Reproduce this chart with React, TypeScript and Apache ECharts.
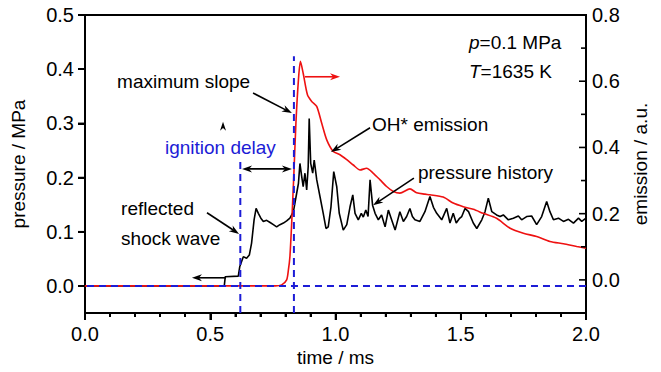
import React, { useEffect, useRef } from "react";
import * as echarts from "echarts";

// ---------- data ----------
const timeRange = [0, 2.0];
const pressureRange = [-0.05, 0.5];
const emissionRange = [-0.1, 0.8];
const timeMajorTicks = [0, 0.5, 1.0, 1.5, 2.0];
const timeMinorTicks = [0.1, 0.2, 0.3, 0.4, 0.6, 0.7, 0.8, 0.9, 1.1, 1.2, 1.3, 1.4, 1.6, 1.7, 1.8, 1.9];
const pressureTicks = [0, 0.1, 0.2, 0.3, 0.4, 0.5];
const emissionMajorTicks = [0, 0.2, 0.4, 0.6, 0.8];
const emissionMinorTicks = [0.1, 0.3, 0.5, 0.7];
const pressureTickStep = 0.1;
const emissionTickStep = 0.2;
const timeTickStep = 0.5;
const axisTitles = { time: "time / ms", pressure: "pressure / MPa", emission: "emission / a.u." };

// pressure history (time ms, pressure MPa)
const pressureTime = [
  0, 0.556, 0.56, 0.612, 0.618, 0.632, 0.645, 0.656, 0.665, 0.675, 0.683, 0.692, 0.702, 0.712,
  0.725, 0.739, 0.752, 0.765, 0.778, 0.792, 0.805, 0.818, 0.832, 0.845, 0.852, 0.858, 0.865,
  0.871, 0.878, 0.885, 0.891, 0.895, 0.901, 0.909, 0.915, 0.925, 0.938, 0.951, 0.962, 0.971,
  0.982, 0.993, 1.005, 1.015, 1.031, 1.045, 1.058, 1.069, 1.078, 1.091, 1.103, 1.111, 1.121,
  1.13, 1.138, 1.148, 1.158, 1.171, 1.184, 1.198, 1.211, 1.224, 1.238, 1.257, 1.271, 1.284,
  1.297, 1.307, 1.317, 1.337, 1.357, 1.377, 1.391, 1.404, 1.424, 1.444, 1.457, 1.47, 1.482,
  1.494, 1.504, 1.517, 1.531, 1.55, 1.564, 1.584, 1.597, 1.61, 1.624, 1.643, 1.657, 1.67,
  1.69, 1.71, 1.73, 1.743, 1.763, 1.783, 1.803, 1.823, 1.843, 1.856, 1.87, 1.89, 1.91, 1.93,
  1.95, 1.97, 1.983, 2.0,
];
const pressureValue = [
  0, 0, 0.017, 0.018, 0.036, 0.054, 0.051, 0.057, 0.079, 0.122, 0.143, 0.134, 0.125, 0.119,
  0.121, 0.117, 0.113, 0.109, 0.113, 0.116, 0.12, 0.125, 0.137, 0.171, 0.189, 0.226, 0.202,
  0.183, 0.208, 0.177, 0.22, 0.309, 0.226, 0.208, 0.232, 0.196, 0.165, 0.134, 0.106, 0.109,
  0.146, 0.211, 0.183, 0.134, 0.103, 0.113, 0.146, 0.168, 0.134, 0.122, 0.134, 0.127, 0.14,
  0.128, 0.196, 0.149, 0.134, 0.122, 0.131, 0.109, 0.14, 0.122, 0.103, 0.137, 0.119, 0.128,
  0.143, 0.128, 0.122, 0.119, 0.137, 0.165, 0.145, 0.134, 0.122, 0.143, 0.116, 0.134, 0.116,
  0.124, 0.128, 0.143, 0.137, 0.116, 0.106, 0.122, 0.137, 0.162, 0.137, 0.131, 0.128, 0.131,
  0.122, 0.125, 0.129, 0.122, 0.128, 0.129, 0.113, 0.128, 0.156, 0.137, 0.122, 0.125, 0.119,
  0.123, 0.116, 0.125, 0.119, 0.125,
];

// OH* emission (time ms, a.u.)
const emissionTime = [
  -0.04, 0.76, 0.785, 0.805, 0.812, 0.818, 0.825, 0.834, 0.842, 0.852, 0.86, 0.871, 0.888,
  0.905, 0.925, 0.945, 0.965, 0.991, 1.018, 1.045, 1.071, 1.098, 1.124, 1.151, 1.178, 1.204,
  1.231, 1.257, 1.297, 1.324, 1.357, 1.377, 1.43, 1.47, 1.51, 1.55, 1.59, 1.643, 1.697, 1.75,
  1.803, 1.856, 1.91, 1.963, 2.0,
];
const emissionValue = [
  -0.018, -0.018, -0.015, 0.0, 0.03, 0.07, 0.17, 0.323, 0.474, 0.604, 0.66, 0.624, 0.559,
  0.539, 0.524, 0.473, 0.423, 0.388, 0.378, 0.363, 0.347, 0.332, 0.337, 0.322, 0.302, 0.282,
  0.267, 0.262, 0.275, 0.263, 0.259, 0.257, 0.25, 0.232, 0.221, 0.213, 0.201, 0.186, 0.156,
  0.141, 0.131, 0.116, 0.109, 0.101, 0.096,
];

// blue dashed guide lines (time, pressure)
const baselineLine = [[-0.04, 0], [2.0, 0]];
const shockLine = [[0.62, -0.05], [0.62, 0.236]];
const slopeLine = [[0.834, -0.05], [0.834, 0.424]];

// annotation texts (anchored in time / pressure coordinates)
const labelTexts = [
  { text: "maximum slope", t: 0.128, p: 0.378, color: "#000" },
  { text: "ignition delay", t: 0.319, p: 0.256, color: "#1c1cd6" },
  { text: "reflected", t: 0.144, p: 0.142, color: "#000" },
  { text: "shock wave", t: 0.144, p: 0.087, color: "#000" },
  { text: "OH* emission", t: 1.146, p: 0.297, color: "#000" },
  { text: "pressure history", t: 1.329, p: 0.21, color: "#000" },
  { text: "{i|p}=0.1 MPa", t: 1.533, p: 0.45, color: "#000" },
  { text: "{i|T}=1635 K", t: 1.533, p: 0.395, color: "#000" },
];
// arrows: from (t1,p1) to head (t2,p2); double = both heads
const arrowList = [
  { from: [0.671, 0.356], to: [0.826, 0.319], color: "#000", double: false },
  { from: [0.487, 0.135], to: [0.615, 0.096], color: "#000", double: false },
  { from: [0.563, 0.015], to: [0.427, 0.015], color: "#000", double: false },
  { from: [0.627, 0.216], to: [0.826, 0.216], color: "#000", double: true },
  { from: [0.878, 0.386], to: [1.018, 0.386], color: "#ee1111", double: false },
  { from: [1.138, 0.292], to: [0.982, 0.247], color: "#000", double: false },
  { from: [1.313, 0.199], to: [1.15, 0.149], color: "#000", double: false },
];
const smallHead = { tip: [0.551, 0.303], base: [0.551, 0.285] };

const FONT = "Liberation Sans, Arial, sans-serif";
const FS = 19;
const TICK_FS = 20;

function zip(a: number[], b: number[]) {
  return a.map((v, i) => [v, b[i]]);
}

function headPolygon(tip: number[], from: number[], color: string, len = 10, half = 3.5) {
  const dx = tip[0] - from[0];
  const dy = tip[1] - from[1];
  const L = Math.hypot(dx, dy) || 1;
  const ux = dx / L;
  const uy = dy / L;
  const bx = tip[0] - ux * len;
  const by = tip[1] - uy * len;
  const nx = -uy;
  const ny = ux;
  const notch = [tip[0] - ux * len * 0.7, tip[1] - uy * len * 0.7];
  return {
    el: {
      type: "polygon",
      z: 100,
      silent: true,
      shape: {
        points: [tip, [bx + nx * half, by + ny * half], notch, [bx - nx * half, by - ny * half]],
      },
      style: { fill: color },
    },
    notch,
  };
}

// plot frame in pixels
const G = { left: 85, right: 75, top: 15, bottom: 59 };
const W = 661;
const H = 372;

export default function App() {
  const ref = useRef<HTMLDivElement>(null);

  useEffect(() => {
    if (!ref.current) return;
    const chart = echarts.init(ref.current, null, { renderer: "svg" });

    const plotH = H - G.top - G.bottom;
    // grids whose bottom edge sits at value 0 of each y scale (label scales start at 0)
    const pZeroBottom = G.bottom + plotH * ((0 - pressureRange[0]) / (pressureRange[1] - pressureRange[0]));
    const eZeroBottom = G.bottom + plotH * ((0 - emissionRange[0]) / (emissionRange[1] - emissionRange[0]));

    const axisLine = { show: true, onZero: false, lineStyle: { color: "#000", width: 2 } };
    const tickLabelStyle = { color: "#000", fontSize: TICK_FS, fontFamily: FONT };
    const tickLine = { color: "#000", width: 2 };
    const dashStyle = { color: "#1c1cd6", width: 2, type: [7, 5] as any };
    const hidden = { show: false };

    const option: any = {
      animation: false,
      backgroundColor: "#fff",
      grid: [
        { ...G, show: true, borderColor: "#000", borderWidth: 2, backgroundColor: "transparent" },
        { left: G.left, right: G.right, top: G.top, bottom: pZeroBottom },
        { left: G.left, right: G.right, top: G.top, bottom: eZeroBottom },
      ],
      xAxis: [
        {
          type: "value",
          gridIndex: 0,
          position: "bottom",
          min: timeRange[0],
          max: timeRange[1],
          interval: timeTickStep,
          axisLine,
          axisTick: { show: true, length: 7, lineStyle: tickLine },
          minorTick: { show: true, splitNumber: 5, length: 4, lineStyle: tickLine },
          axisLabel: { show: true, ...tickLabelStyle, margin: 11, formatter: (v: number) => v.toFixed(1) },
          splitLine: hidden,
          minorSplitLine: hidden,
        },
        { type: "value", gridIndex: 1, min: timeRange[0], max: timeRange[1], show: false },
        { type: "value", gridIndex: 2, min: timeRange[0], max: timeRange[1], show: false },
      ],
      yAxis: [
        {
          type: "value",
          gridIndex: 0,
          min: pressureRange[0],
          max: pressureRange[1],
          position: "left",
          axisLine,
          axisTick: hidden,
          axisLabel: hidden,
          splitLine: hidden,
        },
        {
          type: "value",
          gridIndex: 0,
          min: emissionRange[0],
          max: emissionRange[1],
          position: "right",
          axisLine,
          axisTick: hidden,
          axisLabel: hidden,
          splitLine: hidden,
        },
        {
          // pressure label scale (0 … 0.5)
          type: "value",
          gridIndex: 1,
          min: 0,
          max: pressureRange[1],
          interval: pressureTickStep,
          position: "left",
          axisLine: { show: false },
          axisTick: { show: true, length: 7, lineStyle: tickLine },
          axisLabel: { show: true, ...tickLabelStyle, margin: 11, formatter: (v: number) => v.toFixed(1) },
          splitLine: hidden,
        },
        {
          // emission label scale (0 … 0.8)
          type: "value",
          gridIndex: 2,
          min: 0,
          max: emissionRange[1],
          interval: emissionTickStep,
          position: "right",
          axisLine: { show: false },
          axisTick: hidden,
          axisLabel: { show: true, ...tickLabelStyle, margin: 6, formatter: (v: number) => v.toFixed(1) },
          splitLine: hidden,
        },
      ],
      series: [
        {
          name: "pressure history",
          type: "line",
          xAxisIndex: 0,
          yAxisIndex: 0,
          data: zip(pressureTime, pressureValue),
          symbol: "none",
          lineStyle: { color: "#000", width: 1.6 },
          silent: true,
          z: 2,
        },
        {
          name: "OH* emission",
          type: "line",
          xAxisIndex: 0,
          yAxisIndex: 1,
          data: zip(emissionTime, emissionValue),
          symbol: "none",
          smooth: 0.25,
          clip: false,
          lineStyle: { color: "#ee1111", width: 1.6 },
          silent: true,
          z: 3,
        },
        {
          type: "line",
          xAxisIndex: 0,
          yAxisIndex: 0,
          data: baselineLine,
          symbol: "none",
          clip: false,
          lineStyle: dashStyle,
          silent: true,
          z: 4,
        },
        {
          type: "line",
          xAxisIndex: 0,
          yAxisIndex: 0,
          data: shockLine,
          symbol: "none",
          lineStyle: dashStyle,
          silent: true,
          z: 4,
        },
        {
          type: "line",
          xAxisIndex: 0,
          yAxisIndex: 0,
          data: slopeLine,
          symbol: "none",
          lineStyle: dashStyle,
          silent: true,
          z: 4,
        },
      ],
    };
    chart.setOption(option);

    const px = (t: number, p: number) => chart.convertToPixel({ seriesIndex: 0 }, [t, p]) as number[];
    const pxE = (t: number, e: number) => chart.convertToPixel({ seriesIndex: 1 }, [t, e]) as number[];
    const graphics: any[] = [];

    // tick marks drawn through the axes' own scales (backup for the axis ticks)
    const frameBottom = px(timeRange[0], pressureRange[0])[1];
    const frameTop = px(timeRange[0], pressureRange[1])[1];
    const frameLeft = px(timeRange[0], 0)[0];
    const frameRight = px(timeRange[1], 0)[0];
    const vTick = (x: number, y0: number, len: number) =>
      graphics.push({
        type: "rect",
        z: 99,
        silent: true,
        shape: { x: x - 0.8, y: y0, width: 1.6, height: len },
        style: { fill: "#000" },
      });
    const hTick = (x0: number, y: number, len: number) =>
      graphics.push({
        type: "rect",
        z: 99,
        silent: true,
        shape: { x: x0, y: y - 0.8, width: len, height: 1.6 },
        style: { fill: "#000" },
      });
    timeMajorTicks.forEach((t) => vTick(px(t, 0)[0], frameBottom, 7));
    timeMinorTicks.forEach((t) => vTick(px(t, 0)[0], frameBottom, 4));
    pressureTicks.forEach((p) => hTick(frameLeft - 7, px(0, p)[1], 7));
    emissionMajorTicks.forEach((e) => hTick(frameRight - 7, pxE(0, e)[1], 7));
    emissionMinorTicks.forEach((e) => hTick(frameRight - 5, pxE(0, e)[1], 5));

    // axis titles
    const midY = (frameTop + frameBottom) / 2;
    const titleStyle = (text: string) => ({
      text,
      fill: "#000",
      fontSize: FS,
      fontFamily: FONT,
      align: "center",
      verticalAlign: "middle",
      textAlign: "center",
      textVerticalAlign: "middle",
    });
    graphics.push({
      type: "text",
      x: (frameLeft + frameRight) / 2,
      y: frameBottom + 44,
      z: 100,
      silent: true,
      style: titleStyle(axisTitles.time),
    });
    graphics.push({
      type: "text",
      x: frameLeft - 67,
      y: midY,
      rotation: Math.PI / 2,
      z: 100,
      silent: true,
      style: titleStyle(axisTitles.pressure),
    });
    graphics.push({
      type: "text",
      x: Math.min(frameRight + 54, W - 12),
      y: midY,
      rotation: Math.PI / 2,
      z: 100,
      silent: true,
      style: titleStyle(axisTitles.emission),
    });

    labelTexts.forEach((l) => {
      const [x, y] = px(l.t, l.p);
      graphics.push({
        type: "text",
        x,
        y,
        z: 100,
        silent: true,
        style: {
          text: l.text,
          fill: l.color,
          fontSize: FS,
          fontFamily: FONT,
          align: "left",
          verticalAlign: "middle",
          textAlign: "left",
          textVerticalAlign: "middle",
          rich: { i: { fontStyle: "italic", fontSize: FS, fontFamily: FONT, fill: l.color } },
        },
      });
    });

    arrowList.forEach((a) => {
      const start = px(a.from[0], a.from[1]);
      const end = px(a.to[0], a.to[1]);
      const h1 = headPolygon(end, start, a.color);
      graphics.push(h1.el);
      let s = start;
      if (a.double) {
        const h2 = headPolygon(start, end, a.color);
        graphics.push(h2.el);
        s = h2.notch;
      }
      graphics.push({
        type: "line",
        z: 99,
        silent: true,
        shape: { x1: s[0], y1: s[1], x2: h1.notch[0], y2: h1.notch[1] },
        style: { stroke: a.color, lineWidth: 1.6 },
      });
    });

    {
      const tip = px(smallHead.tip[0], smallHead.tip[1]);
      const base = px(smallHead.base[0], smallHead.base[1]);
      graphics.push(headPolygon(tip, base, "#000", 9, 3).el);
    }

    chart.setOption({ graphic: graphics });

    return () => chart.dispose();
  }, []);

  return (
    <div
      ref={ref}
      style={{ position: "fixed", left: 0, top: 0, width: W, height: H, background: "#fff" }}
    />
  );
}
